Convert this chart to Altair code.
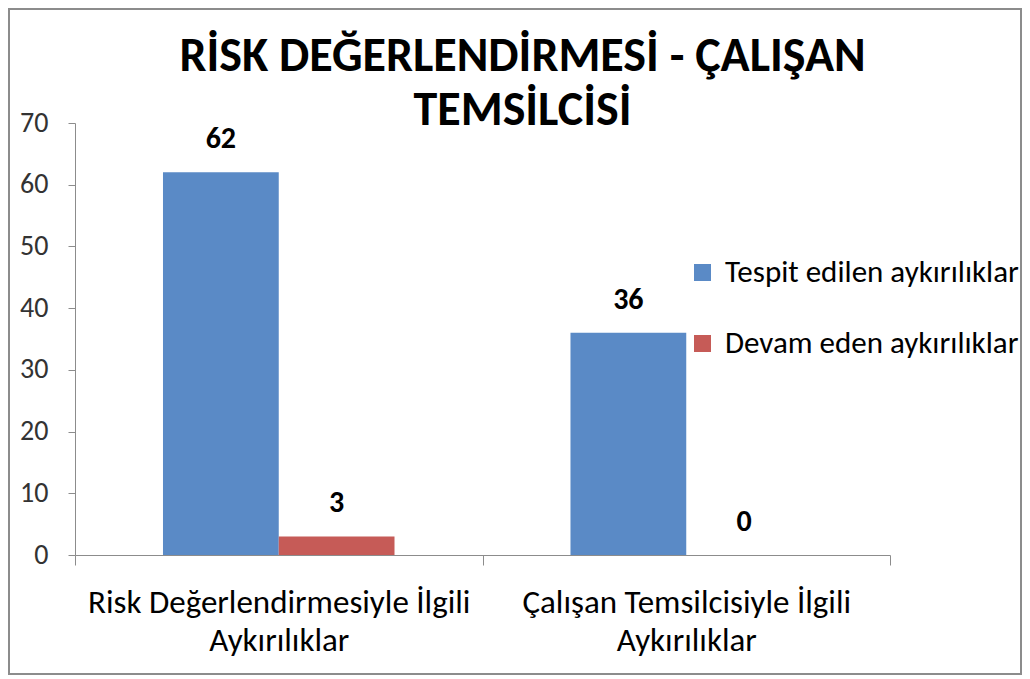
import altair as alt
import pandas as pd

categories = ["Risk Değerlendirmesiyle İlgili Aykırılıklar", "Çalışan Temsilcisiyle İlgili Aykırılıklar"]
series = ["Tespit edilen aykırılıklar", "Devam eden aykırılıklar"]
tespit = [62, 36]
devam = [3, 0]
colors = ["#5A8AC6", "#C65B57"]
title_lines = ["RİSK DEĞERLENDİRMESİ - ÇALIŞAN", "TEMSİLCİSİ"]

rows = []
for i, c in enumerate(categories):
    rows.append({"kategori": c, "seri": series[0], "deger": tespit[i]})
    rows.append({"kategori": c, "seri": series[1], "deger": devam[i]})
df = pd.DataFrame(rows)

FONT = "Carlito, Lato, Open Sans, sans-serif"

x = alt.X("kategori:N", sort=categories, title=None,
          scale=alt.Scale(paddingInner=0, paddingOuter=0),
          axis=alt.Axis(labelAngle=0, tickBand="extent", tickSize=10, tickColor="#8c8c8c",
                        domainColor="#8c8c8c", labelFontSize=33, labelColor="#000000",
                        labelFont=FONT, labelPadding=21, labelLineHeight=38, labelLimit=0,
                        labelExpr="datum.label ? [replace(datum.label, ' Aykırılıklar', ''), 'Aykırılıklar'] : ''"))
xo = alt.XOffset("seri:N", sort=series, scale=alt.Scale(paddingOuter=0.76, paddingInner=0))
y = alt.Y("deger:Q", title=None,
          scale=alt.Scale(domain=[0, 70]),
          axis=alt.Axis(values=list(range(0, 71, 10)), grid=False, tickSize=7, tickColor="#8c8c8c",
                        domainColor="#8c8c8c", labelFontSize=28, labelColor="#333333",
                        labelFont=FONT, labelPadding=20))

base = alt.Chart(df)
bars = base.mark_bar().encode(
    x=x, xOffset=xo, y=y,
    color=alt.Color("seri:N", sort=series, scale=alt.Scale(domain=series, range=colors),
                    legend=alt.Legend(title=None, orient="none", legendX=612, legendY=134,
                                      symbolType="square", symbolSize=289, symbolStrokeWidth=0,
                                      labelFontSize=31, labelFont=FONT, labelColor="#000000",
                                      labelLimit=0, rowPadding=39, labelOffset=7)),
)
labels = base.mark_text(fontSize=30, fontWeight="bold", font=FONT, baseline="alphabetic",
                        dy=-24, color="#000000").encode(
    x=x, xOffset=xo, y=y, text=alt.Text("deger:Q"))

frame = alt.Chart(alt.Data(values=[{}])).mark_rect(fill=None, stroke="#8c8c8c", strokeWidth=2).encode(
    x=alt.value(-66), x2=alt.value(946), y=alt.value(-114), y2=alt.value(551))

chart = alt.layer(frame, bars, labels).properties(
    width=815, height=432,
    title=alt.TitleParams(text=title_lines, fontSize=48, fontWeight="bold", font=FONT,
                          anchor="middle", frame="group", dx=40, offset=-127, lineHeight=54,
                          color="#000000"),
    autosize=alt.AutoSizeParams(type="none"),
    padding={"left": 67, "top": 115, "right": 132, "bottom": 120},
).configure(background="#ffffff").configure_view(stroke=None)

chart.save("out.html", embed_options={"renderer": "svg", "actions": False})
